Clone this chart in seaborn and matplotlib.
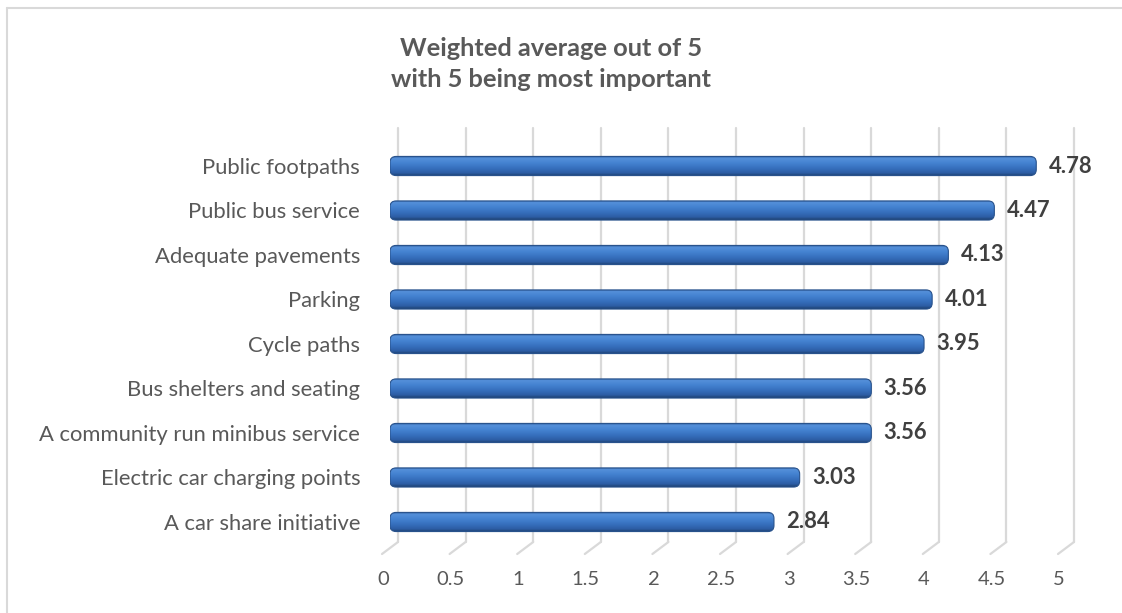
import numpy as np
import pandas as pd
import seaborn as sns
import matplotlib.pyplot as plt
import matplotlib.transforms as mtransforms
from matplotlib.patches import FancyBboxPatch
from matplotlib.lines import Line2D
from matplotlib.colors import LinearSegmentedColormap

categories = [
    "Public footpaths",
    "Public bus service",
    "Adequate pavements",
    "Parking",
    "Cycle paths",
    "Bus shelters and seating",
    "A community run minibus service",
    "Electric car charging points",
    "A car share initiative",
]
values = [4.78, 4.47, 4.13, 4.01, 3.95, 3.56, 3.56, 3.03, 2.84]
xticks = [0, 0.5, 1, 1.5, 2, 2.5, 3, 3.5, 4, 4.5, 5]
xtick_labels = ["0", "0.5", "1", "1.5", "2", "2.5", "3", "3.5", "4", "4.5", "5"]
title = "Weighted average out of 5\nwith 5 being most important"

sns.set_theme(style="white")
plt.rcParams["font.family"] = ["Lato", "DejaVu Sans"]

W, H = 1122, 613
fig = plt.figure(figsize=(W / 100, H / 100), dpi=100)
ax_left, ax_right, ax_top, ax_bot = 390, 1066, 128, 542
ax = fig.add_axes([ax_left / W, 1 - ax_bot / H, (ax_right - ax_left) / W, (ax_bot - ax_top) / H])

df = pd.DataFrame({"category": categories, "value": values})
sns.barplot(data=df, x="value", y="category", orient="h", color="#3C78C8",
            width=0.43, ax=ax, zorder=3)

ylim = (8.45, -0.854)
ax.set_xlim(0, 5)
ax.set_ylim(*ylim)

# gradient cylinder look for each bar
cmap = LinearSegmentedColormap.from_list("bar", [
    (0.0, "#28538F"), (0.1, "#5590DA"), (0.35, "#4482D0"),
    (0.6, "#3770BE"), (0.85, "#2D5EA5"), (1.0, "#1D406F")])
grad = np.linspace(0, 1, 64).reshape(-1, 1)
for p in list(ax.patches):
    x0, y0 = p.get_x(), p.get_y()
    w, h = p.get_width(), p.get_height()
    p.set_visible(False)
    clip = FancyBboxPatch((x0, y0), w, h,
                          boxstyle="round,pad=0,rounding_size=0.045",
                          mutation_aspect=3.0, facecolor="none",
                          edgecolor="#28528C", linewidth=0.8,
                          transform=ax.transData, zorder=4)
    ax.add_patch(clip)
    im = ax.imshow(grad, cmap=cmap, aspect="auto", origin="upper",
                   extent=(x0, x0 + w, y0 + h, y0), zorder=3.5,
                   interpolation="bilinear")
    im.set_clip_path(clip)

ax.set_xlim(0, 5)
ax.set_ylim(*ylim)

# value labels
ax.bar_label(ax.containers[0], labels=[f"{v:.2f}" for v in values],
             padding=9, fontsize=15.8, fontweight="bold", color="#404040")

# 3D-like gridlines
grid_c = "#D9D9D9"
back = mtransforms.ScaledTranslation(0.08, 0, fig.dpi_scale_trans)
xtrans = ax.get_xaxis_transform()
for t in xticks:
    ax.plot([t, t], [0, 1], transform=xtrans + back, color=grid_c,
            lw=1.6, zorder=0, clip_on=False)
    ax.annotate("", xy=(t, 0), xycoords=xtrans + back,
                xytext=(-16, -12), textcoords="offset pixels",
                arrowprops=dict(arrowstyle="-", color=grid_c, lw=1.6,
                                shrinkA=0, shrinkB=0), zorder=0)

for s in ax.spines.values():
    s.set_visible(False)
ax.grid(False)
ax.set_xlabel("")
ax.set_ylabel("")
ax.set_xticks(xticks)
ax.set_xticklabels(xtick_labels)
ax.tick_params(axis="x", length=0, pad=21, labelsize=14.5, labelcolor="#595959")
ax.tick_params(axis="y", length=0, pad=21.5, labelsize=15.8, labelcolor="#595959")
front = mtransforms.ScaledTranslation(-0.07, 0, fig.dpi_scale_trans)
for lab in ax.get_xticklabels():
    lab.set_transform(lab.get_transform() + front)

fig.text(0.491, 1 - 64 / H, title, ha="center", va="center",
         fontsize=18.3, fontweight="bold", color="#595959", linespacing=1.38)

# chart area border (top and left visible)
fig.add_artist(Line2D([6.5 / W, 1], [1 - 7.5 / H] * 2, transform=fig.transFigure,
                      color="#D9D9D9", lw=1.5))
fig.add_artist(Line2D([6.5 / W] * 2, [0, 1 - 7.5 / H], transform=fig.transFigure,
                      color="#D9D9D9", lw=1.5))

fig.savefig("out.png", dpi=100, facecolor="white")
